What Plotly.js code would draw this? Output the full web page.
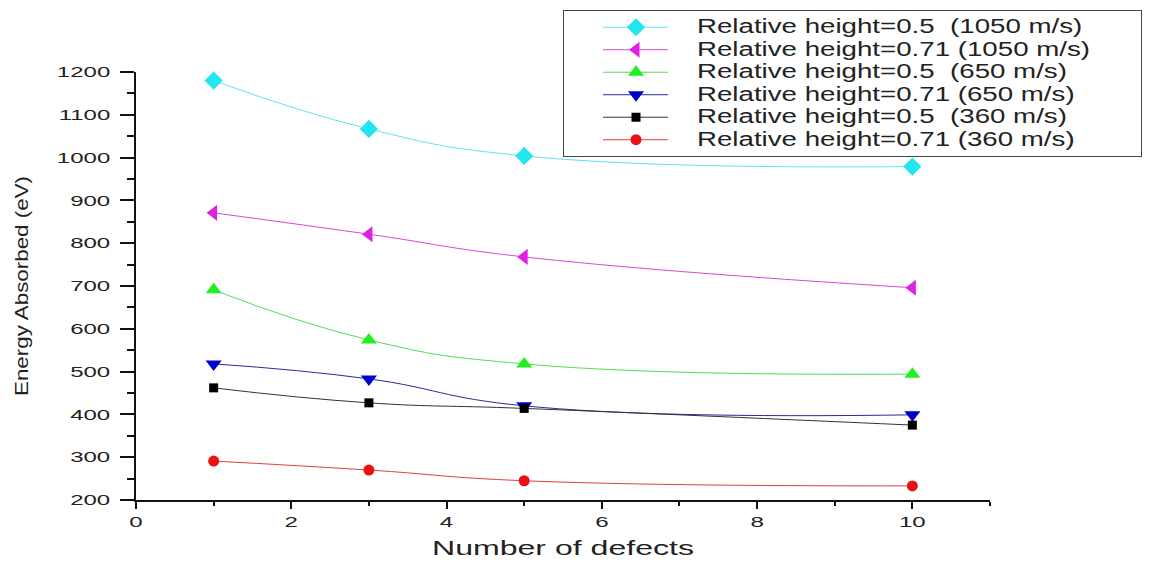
<!DOCTYPE html>
<html>
<head>
<meta charset="utf-8">
<script src="https://cdn.plot.ly/plotly-3.0.1.min.js"></script>
<style>
  html, body { margin: 0; padding: 0; background: #ffffff; overflow: hidden; }
  #chart { width: 1152px; height: 563px; }
  text { white-space: pre; }
  .legendtext { font-size: 19.5px !important; letter-spacing: 5.2px; }
</style>
</head>
<body>
<div id="chart"></div>
<script>
// ---- data ----
const defects = [1, 3, 5, 10];

const seriesNames = [
  'Relative height=0.5  (1050 m/s)',
  'Relative height=0.71 (1050 m/s)',
  'Relative height=0.5  (650 m/s)',
  'Relative height=0.71 (650 m/s)',
  'Relative height=0.5  (360 m/s)',
  'Relative height=0.71 (360 m/s)'
];

const h050_v1050 = [1180, 1067, 1004, 979];
const h071_v1050 = [871, 821, 768, 696];
const h050_v650  = [691, 574, 518, 494];
const h071_v650  = [518, 483, 420, 399];
const h050_v360  = [462, 427, 414, 375];
const h071_v360  = [291, 270, 245, 233];

const seriesValues = [h050_v1050, h071_v1050, h050_v650, h071_v650, h050_v360, h071_v360];

// ---- styles ----
const markerColors = ['#22e6ef', '#de22de', '#22ee22', '#0000cc', '#000000', '#e81212'];
const lineColors   = ['#5fe4ea', '#d24cd2', '#55dd55', '#2a2aa0', '#333333', '#e04040'];
const symbols      = ['diamond', 'triangle-left', 'triangle-up', 'triangle-down', 'square', 'circle'];
const sizes        = [14, 14, 14, 14, 9, 11];

const traces = seriesNames.map((name, i) => ({
  type: 'scatter',
  mode: 'lines+markers',
  name: name,
  x: defects,
  y: seriesValues[i],
  line: { color: lineColors[i], width: 1, shape: 'spline', smoothing: 1.3 },
  marker: { color: markerColors[i], symbol: symbols[i], size: sizes[i], line: { width: 0 } }
}));

const baseFont = 'Liberation Sans, Arial, sans-serif';

const layout = {
  width: 1152,
  height: 563,
  margin: { l: 136, r: 162, t: 72, b: 63, autoexpand: false },
  paper_bgcolor: '#ffffff',
  plot_bgcolor: '#ffffff',
  font: { family: baseFont, color: '#222222' },
  showlegend: true,
  legend: {
    x: 0.5, xanchor: 'left',
    y: 1.1449, yanchor: 'top',
    bgcolor: '#ffffff',
    bordercolor: '#444444',
    borderwidth: 1,
    itemwidth: 123,
    font: { family: baseFont, size: 15, color: '#222222' },
    tracegroupgap: 0
  },
  xaxis: {
    range: [0, 11],
    tick0: 0, dtick: 2,
    showgrid: false, zeroline: false,
    showline: true, linecolor: '#111111', linewidth: 1.5,
    ticks: 'outside', ticklen: 7, tickwidth: 1.5, tickcolor: '#111111',
    minor: { dtick: 1, ticks: 'outside', ticklen: 4, tickwidth: 1.5, tickcolor: '#111111', showgrid: false },
    tickfont: { family: baseFont, size: 15, color: '#222222' },
    title: { text: 'Number of defects', font: { family: baseFont, size: 20, color: '#222222' }, standoff: 12 },
    automargin: false
  },
  yaxis: {
    range: [200, 1200],
    tick0: 200, dtick: 100,
    showgrid: false, zeroline: false,
    showline: true, linecolor: '#111111', linewidth: 1.5,
    ticks: 'outside', ticklen: 14, tickwidth: 1.5, tickcolor: '#111111',
    ticklabelstandoff: 7,
    minor: { dtick: 50, ticks: 'outside', ticklen: 7, tickwidth: 1.5, tickcolor: '#111111', showgrid: false },
    tickfont: { family: baseFont, size: 15, color: '#222222' },
    title: { text: 'Energy Absorbed (eV)', font: { family: baseFont, size: 18, color: '#222222' }, standoff: 44 },
    automargin: false
  }
};

Plotly.newPlot('chart', traces, layout, { displayModeBar: false, responsive: false }).then(gd => {
  // Stretch text like the reference (wide glyphs)
  const stretch = (el, len) => {
    el.setAttribute('textLength', len.toFixed(1));
    el.setAttribute('lengthAdjust', 'spacingAndGlyphs');
  };
  gd.querySelectorAll('.xtick text, .ytick text').forEach(t => stretch(t, t.getComputedTextLength() * 1.6));
  const xt = gd.querySelector('.xtitle'); if (xt) stretch(xt, 262);
  const yt = gd.querySelector('.ytitle'); if (yt) stretch(yt, 220);
  // legend: remove clipping, stretch text to reference width
  gd.querySelectorAll('.legend [clip-path]').forEach(e => e.removeAttribute('clip-path'));
  const lts = Array.from(gd.querySelectorAll('.legendtext'));
  lts.forEach(t => { t.style.letterSpacing = '0px'; });
  const maxL = Math.max.apply(null, lts.map(t => t.getComputedTextLength()));
  const k = 393 / maxL;
  lts.forEach(t => stretch(t, t.getComputedTextLength() * k));
  gd.querySelectorAll('.legend .legendlines path').forEach(p => p.setAttribute('d', 'M39,0h65'));
  gd.querySelectorAll('.legend .legendpoints path.scatterpts').forEach(p => p.setAttribute('transform', 'translate(72,0)'));
});
</script>
</body>
</html>
